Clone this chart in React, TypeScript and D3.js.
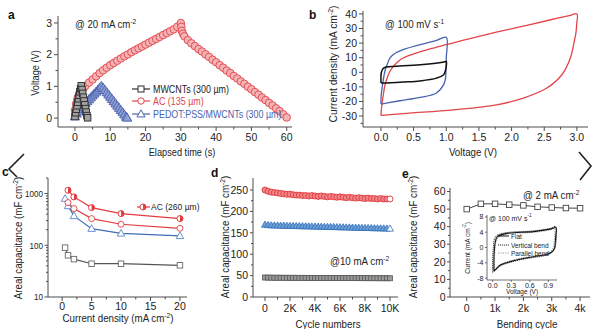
import React from 'react';
import * as d3 from 'd3';

const FONT = "'Liberation Sans', Arial, Helvetica, sans-serif";
const AX = '#4d4d4d';
const TXT = '#222';
const RED = '#e2454a';
const BLUE = '#4a63ad';
const DARK = '#2b2b2b';
const C_RED = '#e23b40';
const C_BLUE = '#3f6fb6';
const C_GRAY = '#555';
const D_RED = '#e2353a';
const D_BLUE = '#2f6fb8';

// ---------- Panel a : galvanostatic charge/discharge ----------
const mwTime = [0, 0.2, 0.4, 0.6, 0.8, 1.0, 1.2, 1.4, 1.6, 1.8, 2.0, 2.2, 2.4, 2.6, 2.8, 3.0, 3.2, 3.4, 3.6];
const mwVolt = [0.05, 0.17, 0.28, 0.39, 0.5, 0.61, 0.72, 0.83, 0.93, 1.02, 0.9, 0.78, 0.66, 0.54, 0.42, 0.3, 0.19, 0.08, 0.01];
const pedotTime = [0, 0.5, 1, 1.5, 2, 2.5, 3, 3.5, 4, 4.5, 5, 5.5, 6, 6.5, 7, 7.5, 8, 8.5, 9, 9.5, 10, 10.5, 11, 11.5, 12, 12.5, 13, 13.5, 14, 14.5, 14.8];
const pedotVolt = [0.05, 0.14, 0.21, 0.28, 0.34, 0.41, 0.47, 0.53, 0.59, 0.65, 0.71, 0.77, 0.83, 0.89, 0.95, 1.01, 0.95, 0.88, 0.81, 0.74, 0.67, 0.6, 0.53, 0.46, 0.39, 0.32, 0.25, 0.18, 0.11, 0.04, 0.01];
const acTime = [0, 0.33, 0.67, 1, 1.5, 2, 2.5, 3, 4, 5, 6, 7, 8, 9, 10, 11, 12, 13, 14, 15, 16, 17, 18, 19, 20, 21, 22, 23, 24, 25, 26, 27, 28, 29, 30, 30.15, 30.3, 30.6, 31, 32, 33, 34, 35, 36, 37, 38, 39, 40, 41, 42, 43, 44, 45, 46, 47, 48, 49, 50, 51, 52, 53, 54, 55, 56, 57, 58, 59, 60];
const acVolt = [0.25, 0.45, 0.6, 0.7, 0.82, 0.9, 0.96, 1.02, 1.12, 1.22, 1.32, 1.42, 1.51, 1.59, 1.67, 1.74, 1.81, 1.88, 1.95, 2.01, 2.08, 2.14, 2.2, 2.26, 2.32, 2.38, 2.44, 2.5, 2.56, 2.62, 2.68, 2.74, 2.8, 2.88, 3.0, 2.88, 2.75, 2.66, 2.58, 2.46, 2.36, 2.27, 2.18, 2.1, 2.01, 1.93, 1.84, 1.76, 1.67, 1.59, 1.5, 1.42, 1.33, 1.25, 1.16, 1.08, 0.99, 0.91, 0.82, 0.74, 0.65, 0.57, 0.48, 0.4, 0.31, 0.22, 0.12, 0.02];
const legendA = ['MWCNTs (300 µm)', 'AC (135 µm)', 'PEDOT:PSS/MWCNTs (300 µm)'];

// ---------- Panel b : CV loops [V, mA cm-2] ----------
const cvAC: [number, number][] = [[0, -29.6], [0.01, -24], [0.036, -15.4], [0.06, -9], [0.087, -5], [0.13, 0], [0.19, 4.1], [0.26, 7.3], [0.34, 9.8], [0.5, 12.6], [0.75, 16], [1.0, 18.9], [1.25, 21.8], [1.5, 24.6], [1.87, 28.5], [2.25, 32.3], [2.6, 36], [2.9, 39], [3.0, 40], [2.997, 33], [2.985, 27], [2.96, 21.2], [2.9, 9.8], [2.77, -1.7], [2.54, -10.8], [2.18, -17.7], [1.77, -22.3], [1.11, -25.7], [0.44, -28], [0.1, -29.2], [0, -29.6]];
const cvPedot: [number, number][] = [[0, -21.8], [0.005, -15], [0.02, -10], [0.06, 0.7], [0.1, 6], [0.14, 9.8], [0.2, 12.5], [0.34, 15.5], [0.6, 18.9], [0.85, 21.9], [1.0, 24], [1.0, 10], [0.995, 0], [0.985, -5], [0.96, -8.5], [0.85, -14.2], [0.6, -17.2], [0.29, -19.5], [0.1, -21], [0, -21.8]];
const cvMw: [number, number][] = [[0, -7.4], [0, -3], [0.005, -0.3], [0.03, 2.5], [0.08, 3.6], [0.24, 4.1], [0.6, 5.2], [0.97, 7.1], [1.0, 7.5], [1.0, 4], [0.99, 1.8], [0.96, -1.7], [0.85, -4], [0.6, -5.9], [0.34, -6.7], [0.05, -7.4], [0, -7.4]];

// ---------- Panel c : rate capability ----------
const cAc260X = [1, 2, 5, 10, 20];
const cAc260 = [1160, 862, 535, 410, 328];
const cAc135X = [1, 2, 5, 10, 20];
const cAc135 = [670, 512, 328, 255, 213];
const cPedotX = [0.5, 1, 2, 5, 10, 20];
const cPedot = [800, 577, 370, 210, 170, 152];
const cMwX = [0.5, 1, 2, 5, 10, 20];
const cMw = [90, 64, 54, 44, 44, 41];

// ---------- Panel d : cycling ----------
const dCycles = d3.range(0, 10001, 250);
const dAC = [250, 247, 245, 244, 243, 242, 241, 240, 240, 239, 238, 238, 237, 237, 236, 237, 236, 235, 236, 235, 234, 235, 234, 233, 234, 233, 232, 233, 232, 231, 232, 231, 230, 231, 230, 230, 229, 230, 229, 229, 229];
const dPedot = [169, 168, 167.5, 167.2, 167.0, 166.8, 166.6, 166.4, 166.2, 166.0, 165.8, 165.6, 165.4, 165.2, 165.0, 164.8, 164.6, 164.4, 164.2, 164.0, 163.8, 163.6, 163.4, 163.2, 163.0, 162.8, 162.6, 162.4, 162.2, 162.0, 161.8, 161.6, 161.4, 161.2, 161.0, 160.8, 160.6, 160.4, 160.2, 160.0, 159.8];
const dMw = [45.5, 45.3, 45.2, 45, 45, 45, 44.9, 44.9, 44.8, 44.8, 44.8, 44.7, 44.7, 44.7, 44.6, 44.6, 44.6, 44.5, 44.5, 44.5, 44.4, 44.4, 44.4, 44.3, 44.3, 44.3, 44.2, 44.2, 44.2, 44.1, 44.1, 44.1, 44, 44, 44, 43.9, 43.9, 43.9, 43.8, 43.8, 43.8];

// ---------- Panel e : bending ----------
const eCycles = [0, 0.5, 1, 1.5, 2, 2.5, 3, 3.5, 4];
const eCap = [50.0, 53.0, 53.0, 52.5, 52.1, 51.3, 50.9, 50.6, 50.5];
const insetFlat: [number, number][] = [[0.02, -6.2], [0.02, -3], [0.03, 0], [0.05, 2], [0.08, 2.9], [0.23, 3.7], [0.66, 4.15], [0.93, 4.8], [1.02, 5.2], [1.02, 3], [1.01, 1], [1.0, -0.2], [0.95, -1.25], [0.85, -1.9], [0.66, -2.4], [0.45, -3.0], [0.28, -3.7], [0.15, -4.4], [0.09, -5.0], [0.05, -5.7], [0.02, -6.2]];
const insetVert: [number, number][] = [[0.0, -6.5], [0.0, -3], [0.01, 0], [0.03, 2.3], [0.07, 3.2], [0.23, 3.9], [0.66, 4.35], [0.93, 5.0], [1.02, 5.5], [1.03, 3], [1.02, 1], [1.0, -0.4], [0.94, -1.5], [0.85, -2.1], [0.66, -2.6], [0.45, -3.2], [0.28, -3.9], [0.15, -4.6], [0.09, -5.2], [0.04, -6.0], [0.0, -6.5]];
const insetPar: [number, number][] = [[0.03, -5.9], [0.03, -3], [0.04, 0], [0.06, 1.8], [0.1, 2.7], [0.23, 3.5], [0.66, 3.95], [0.93, 4.6], [1.0, 5.0], [1.0, 3], [0.99, 1], [0.98, 0], [0.93, -1.1], [0.85, -1.7], [0.66, -2.2], [0.45, -2.8], [0.28, -3.5], [0.15, -4.2], [0.09, -4.8], [0.06, -5.5], [0.03, -5.9]];
const insetLegend = ['Flat', 'Vertical bend', 'Parallel bend'];

type TProps = {
  x: number;
  y: number;
  fs?: number;
  sx?: number;
  anchor?: 'start' | 'middle' | 'end';
  rot?: number;
  fill?: string;
  bold?: boolean;
  dy?: string;
  children?: React.ReactNode;
};

function T({ x, y, fs = 10.5, sx = 0.93, anchor = 'start', rot = 0, fill = TXT, bold = false, dy, children }: TProps) {
  return (
    <text
      transform={`translate(${x},${y})${rot ? ` rotate(${rot})` : ''} scale(${sx},1)`}
      fontSize={fs}
      textAnchor={anchor}
      fill={fill}
      fontWeight={bold ? 'bold' : 'normal'}
      dy={dy}
    >
      {children}
    </text>
  );
}

const sup = (t: string, after?: string) => [
  <tspan key="s" dy={-4} fontSize="0.68em">{t}</tspan>,
  after ? <tspan key="a" dy={4}>{after}</tspan> : null,
];

type AxisProps = {
  orient: 'left' | 'bottom';
  scale: any;
  pos: number;
  ticks: number[];
  labels?: string[];
  minor?: number[];
  fs?: number;
  sx?: number;
  tl?: number;
  ml?: number;
  gap?: number;
  sw?: number;
};

function Axis({ orient, scale, pos, ticks, labels, minor = [], fs = 10.5, sx = 1, tl = 4, ml = 2.5, gap = 2, sw = 1 }: AxisProps) {
  const [r0, r1] = scale.range();
  if (orient === 'left') {
    return (
      <g>
        <line x1={pos} x2={pos} y1={r0} y2={r1} stroke={AX} strokeWidth={sw} />
        {ticks.map((t, i) => <line key={'t' + i} x1={pos - tl} x2={pos} y1={scale(t)} y2={scale(t)} stroke={AX} strokeWidth={sw} />)}
        {minor.map((t, i) => <line key={'m' + i} x1={pos - ml} x2={pos} y1={scale(t)} y2={scale(t)} stroke={AX} strokeWidth={sw} />)}
        {ticks.map((t, i) => (
          <T key={'l' + i} x={pos - tl - gap} y={scale(t)} dy="0.36em" anchor="end" fs={fs} sx={sx}>
            {labels ? labels[i] : String(t)}
          </T>
        ))}
      </g>
    );
  }
  return (
    <g>
      <line x1={r0} x2={r1} y1={pos} y2={pos} stroke={AX} strokeWidth={sw} />
      {ticks.map((t, i) => <line key={'t' + i} x1={scale(t)} x2={scale(t)} y1={pos} y2={pos + tl} stroke={AX} strokeWidth={sw} />)}
      {minor.map((t, i) => <line key={'m' + i} x1={scale(t)} x2={scale(t)} y1={pos} y2={pos + ml} stroke={AX} strokeWidth={sw} />)}
      {ticks.map((t, i) => (
        <T key={'l' + i} x={scale(t)} y={pos + tl + gap + fs * 0.78} anchor="middle" fs={fs} sx={sx}>
          {labels ? labels[i] : String(t)}
        </T>
      ))}
    </g>
  );
}

const sq = (x: number, y: number, s: number, stroke: string, fill: string, k: string | number, sw = 0.9) => (
  <rect key={k} x={x - s / 2} y={y - s / 2} width={s} height={s} stroke={stroke} fill={fill} strokeWidth={sw} />
);
const tri = (x: number, y: number, s: number, stroke: string, fill: string, k: string | number, sw = 0.9) => (
  <path key={k} d={`M${x},${y - s * 0.6}L${x + s * 0.58},${y + s * 0.42}L${x - s * 0.58},${y + s * 0.42}Z`} stroke={stroke} fill={fill} strokeWidth={sw} />
);
const circ = (x: number, y: number, r: number, stroke: string, fill: string, k: string | number, sw = 0.9) => (
  <circle key={k} cx={x} cy={y} r={r} stroke={stroke} fill={fill} strokeWidth={sw} />
);
const halfCirc = (x: number, y: number, r: number, col: string, k: string | number) => (
  <g key={k}>
    <circle cx={x} cy={y} r={r} stroke={col} fill="#fff" strokeWidth={1} />
    <path d={`M${x},${y - r}A${r},${r} 0 0 1 ${x},${y + r}Z`} fill={col} />
  </g>
);

export default function App() {
  const xA = d3.scaleLinear().domain([-4.8, 61.5]).range([58, 292]);
  const yA = d3.scaleLinear().domain([-0.28, 3.22]).range([127, 16]);

  const xB = d3.scaleLinear().domain([-0.275, 3.17]).range([363, 588]);
  const yB = d3.scaleLinear().domain([-37.5, 42]).range([127, 11]);

  const xC = d3.scaleLinear().domain([-2.4, 21.2]).range([48, 187]);
  const yC = d3.scaleLog().domain([10, 2000]).range([297, 178]);

  const xD = d3.scaleLinear().domain([-960, 10640]).range([253, 398]);
  const yD = d3.scaleLinear().domain([0, 278]).range([297, 178]);

  const xE = d3.scaleLinear().domain([-0.59, 4.35]).range([450, 590]);
  const yE = d3.scaleLinear().domain([0, 62]).range([297, 188]);

  const xI = d3.scaleLinear().domain([-0.092, 1.04]).range([487, 557]);
  const yI = d3.scaleLinear().domain([-8.5, 8.5]).range([280, 215]);

  const cvLine = d3
    .line<[number, number]>()
    .x((d) => xB(d[0]))
    .y((d) => yB(d[1]))
    .curve(d3.curveCatmullRom.alpha(0.5));
  const inLine = d3
    .line<[number, number]>()
    .x((d) => xI(d[0]))
    .y((d) => yI(d[1]))
    .curve(d3.curveCatmullRom.alpha(0.5));
  const cLine = (xs: number[], ys: number[]) =>
    d3.line<number>().x((_, i) => xC(xs[i])).y((d) => yC(d))(ys) || '';
  const eLine = d3.line<number>().x((_, i) => xE(eCycles[i])).y((d) => yE(d))(eCap) || '';

  const logMinor: number[] = [];
  [10, 100, 1000].forEach((b) => [2, 3, 4, 5, 6, 7, 8, 9].forEach((m) => { if (b * m <= 2000) logMinor.push(b * m); }));

  return (
    <svg width={600} height={329} style={{ position: 'absolute', left: 0, top: 0, background: '#fff' }} fontFamily={FONT}>
      <rect width={600} height={329} fill="#fff" />

      {/* ============ Panel a ============ */}
      <T x={8} y={19} fs={12} sx={1} bold fill="#111">a</T>
      <Axis orient="left" scale={yA} pos={58} ticks={[0, 1, 2, 3]} minor={[0.5, 1.5, 2.5]} />
      <Axis orient="bottom" scale={xA} pos={127} ticks={[0, 10, 20, 30, 40, 50, 60]} minor={[5, 15, 25, 35, 45, 55]} />
      <T x={182} y={156} anchor="middle" sx={0.88}>Elapsed time (s)</T>
      <T x={39} y={73} rot={-90} anchor="middle" sx={0.88}>Voltage (V)</T>
      <T x={75} y={28} sx={0.92}>@ 20 mA cm{sup('-2')}</T>
      <g>
        {acTime.map((t, i) => circ(xA(t), yA(acVolt[i]), 3.8, RED, '#f4b3b5', 'ac' + i, 0.9))}
        {pedotTime.map((t, i) => tri(xA(t), yA(pedotVolt[i]), 8, BLUE, '#8e9dd6', 'pd' + i, 0.9))}
        {mwTime.map((t, i) => sq(xA(t), yA(mwVolt[i]), 6.5, DARK, '#a0a0a0', 'mw' + i, 0.9))}
      </g>
      {legendA.map((lab, i) => {
        const yy = [89, 101, 114][i];
        const col = [DARK, RED, BLUE][i];
        return (
          <g key={'la' + i}>
            <line x1={132} x2={150} y1={yy} y2={yy} stroke={col} strokeWidth={1.2} />
            {i === 0 && sq(141, yy, 6, col, '#fff', 'lsq', 1)}
            {i === 1 && circ(141, yy, 3.2, col, '#fff', 'lci', 1)}
            {i === 2 && tri(141, yy, 7, col, '#fff', 'ltr', 1)}
            <T x={153} y={yy + 3.7} sx={0.85} fill={col === DARK ? TXT : col}>{lab}</T>
          </g>
        );
      })}

      {/* ============ Panel b ============ */}
      <T x={309} y={19} fs={12} sx={1} bold fill="#111">b</T>
      <Axis orient="left" scale={yB} pos={363} ticks={[-30, -20, -10, 0, 10, 20, 30, 40]} minor={[-35, -25, -15, -5, 5, 15, 25, 35]} />
      <Axis
        orient="bottom"
        scale={xB}
        pos={127}
        ticks={[0, 0.5, 1, 1.5, 2, 2.5, 3]}
        labels={['0.0', '0.5', '1.0', '1.5', '2.0', '2.5', '3.0']}
        minor={[0.25, 0.75, 1.25, 1.75, 2.25, 2.75]}
      />
      <T x={473} y={156} anchor="middle" sx={0.93}>Voltage (V)</T>
      <T x={337} y={64} rot={-90} anchor="middle" sx={0.98}>Current density (mA cm{sup('-2', ')')}</T>
      <T x={385} y={28} sx={0.92}>@ 100 mV s{sup('-1')}</T>
      <path d={cvLine(cvAC) || ''} fill="none" stroke={RED} strokeWidth={1.3} />
      <path d={cvLine(cvPedot) || ''} fill="none" stroke={BLUE} strokeWidth={1.3} />
      <path d={cvLine(cvMw) || ''} fill="none" stroke="#111" strokeWidth={1.5} />

      {/* ============ Panel c ============ */}
      <Axis orient="left" scale={yC} pos={48} ticks={[10, 100, 1000]} minor={logMinor} tl={3.5} ml={2} gap={1.5} fs={9.5} sx={0.85} />
      <Axis orient="bottom" scale={xC} pos={297} ticks={[0, 5, 10, 15, 20]} minor={[2.5, 7.5, 12.5, 17.5]} gap={1} />
      <T x={118} y={322} anchor="middle">Current density (mA cm{sup('-2', ')')}</T>
      <T x={22} y={238} rot={-90} anchor="middle">Areal capacitance (mF cm{sup('-2', ')')}</T>
      <path d={cLine(cMwX, cMw)} fill="none" stroke={C_GRAY} strokeWidth={1.2} />
      <path d={cLine(cPedotX, cPedot)} fill="none" stroke={C_BLUE} strokeWidth={1.2} />
      <path d={cLine(cAc135X, cAc135)} fill="none" stroke={C_RED} strokeWidth={1.2} />
      <path d={cLine(cAc260X, cAc260)} fill="none" stroke={C_RED} strokeWidth={1.2} />
      {cMwX.map((x, i) => sq(xC(x), yC(cMw[i]), 5.5, '#666', '#fff', 'cm' + i))}
      {cPedotX.map((x, i) => tri(xC(x), yC(cPedot[i]), 6.5, '#5a86c4', '#fff', 'cp' + i))}
      {cAc135X.map((x, i) => circ(xC(x), yC(cAc135[i]), 3, C_RED, '#fff', 'c135' + i))}
      {cAc260X.map((x, i) => halfCirc(xC(x), yC(cAc260[i]), 3, C_RED, 'c260' + i))}
      <line x1={137} x2={150} y1={207} y2={207} stroke={C_RED} strokeWidth={1.2} />
      {halfCirc(143, 207, 3, C_RED, 'lc260')}
      <T x={151} y={210.3} fs={9.5} sx={0.9}>AC (260 µm)</T>

      {/* ============ Panel d ============ */}
      <T x={211} y={177} fs={12} sx={1} bold fill="#111">d</T>
      <Axis orient="left" scale={yD} pos={253} ticks={[0, 50, 100, 150, 200, 250]} minor={[25, 75, 125, 175, 225]} tl={3} ml={2} gap={2} />
      <Axis
        orient="bottom"
        scale={xD}
        pos={297}
        ticks={[0, 2000, 4000, 6000, 8000, 10000]}
        labels={['0', '2K', '4K', '6K', '8K', '10K']}
        minor={[1000, 3000, 5000, 7000, 9000]}
        gap={3}
      />
      <T x={328} y={328} anchor="middle">Cycle numbers</T>
      <T x={229} y={237} rot={-90} anchor="middle">Areal capacitance (mF cm{sup('-2', ')')}</T>
      <T x={330} y={265}>@10 mA cm{sup('-2')}</T>
      {dCycles.map((c, i) => sq(xD(c), yD(dMw[i]), 5, '#555', '#9a9a9a', 'dm' + i, 0.8))}
      {dCycles.map((c, i) => tri(xD(c), yD(dPedot[i]), 6, D_BLUE, i === dCycles.length - 1 ? '#fff' : '#6d9fd8', 'dp' + i, 0.8))}
      {dCycles.map((c, i) => circ(xD(c), yD(dAC[i]), 3, D_RED, i === dCycles.length - 1 ? '#fff' : '#f0878a', 'da' + i, 0.9))}

      {/* ============ Panel e ============ */}
      <T x={402} y={178} fs={12} sx={1} bold fill="#111">e</T>
      <Axis orient="left" scale={yE} pos={450} ticks={[0, 10, 20, 30, 40, 50, 60]} minor={[5, 15, 25, 35, 45, 55]} tl={3} ml={2} gap={1.5} />
      <Axis
        orient="bottom"
        scale={xE}
        pos={297}
        ticks={[0, 1, 2, 3, 4]}
        labels={['0', '1k', '2k', '3k', '4k']}
        minor={[0.5, 1.5, 2.5, 3.5]}
        gap={3}
      />
      <T x={527} y={328} anchor="middle">Bending cycle</T>
      <T x={417} y={237} rot={-90} anchor="middle">Areal capacitance (mF cm{sup('-2', ')')}</T>
      <T x={523} y={199}>@ 2 mA cm{sup('-2')}</T>
      <path d={eLine} fill="none" stroke="#444" strokeWidth={1} />
      {eCycles.map((c, i) => sq(xE(c), yE(eCap[i]), 5.5, '#444', '#fff', 'e' + i))}

      {/* inset */}
      <Axis orient="left" scale={yI} pos={487} ticks={[-8, -4, 0, 4, 8]} fs={7} tl={2} gap={1.5} sw={0.8} />
      <Axis
        orient="bottom"
        scale={xI}
        pos={280}
        ticks={[0, 0.3, 0.6, 0.9]}
        labels={['0.0', '0.3', '0.6', '0.9']}
        fs={7}
        tl={2}
        gap={0.5}
        sw={0.8}
      />
      <T x={522} y={294} fs={7} anchor="middle">Voltage (V)</T>
      <T x={470} y={248} fs={7} rot={-90} anchor="middle">Current (mA cm{sup('-2', ')')}</T>
      <T x={489} y={221} fs={7.5}>@ 100 mV s{sup('-1')}</T>
      <path d={inLine(insetPar) || ''} fill="none" stroke="#999" strokeWidth={1} strokeDasharray="1.2,1.2" />
      <path d={inLine(insetVert) || ''} fill="none" stroke="#333" strokeWidth={1} strokeDasharray="1.2,0.8" />
      <path d={inLine(insetFlat) || ''} fill="none" stroke="#111" strokeWidth={1.1} />
      {insetLegend.map((lab, i) => {
        const yy = [236, 245, 253][i];
        return (
          <g key={'il' + i}>
            <line x1={498} x2={509} y1={yy} y2={yy} stroke={['#111', '#333', '#999'][i]} strokeWidth={1} strokeDasharray={['none', '1.2,0.8', '1.2,1.2'][i]} />
            <T x={511} y={yy + 2.5} fs={7}>{lab}</T>
          </g>
        );
      })}

      {/* carousel arrows */}
      <path d="M24,154 L9,169 L17,177" fill="none" stroke="#222" strokeWidth={1.6} />
      <T x={2} y={176} fs={12} sx={1} bold fill="#111">c</T>
      <path d="M579,152 L591,166 L580,180" fill="none" stroke="#222" strokeWidth={1.6} />
    </svg>
  );
}
